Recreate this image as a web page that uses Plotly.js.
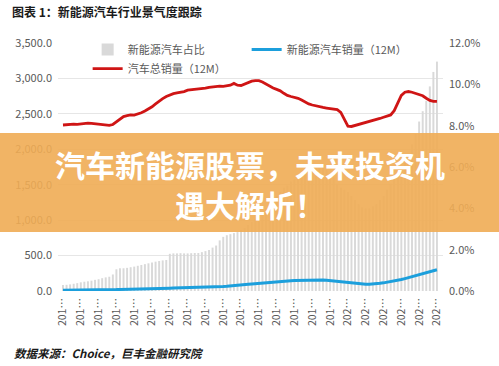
<!DOCTYPE html>
<html><head><meta charset="utf-8">
<script src="https://cdn.plot.ly/plotly-3.0.1.min.js"></script>
<style>html,body{margin:0;padding:0;background:#fff}#chart{width:499px;height:366px}</style>
</head><body><div id="chart"></div>
<script>
var months = ("2013-06 2013-07 2013-08 2013-09 2013-10 2013-11 2013-12 " +
"2014-01 2014-02 2014-03 2014-04 2014-05 2014-06 2014-07 2014-08 2014-09 2014-10 2014-11 2014-12 " +
"2015-01 2015-02 2015-03 2015-04 2015-05 2015-06 2015-07 2015-08 2015-09 2015-10 2015-11 2015-12 " +
"2016-01 2016-02 2016-03 2016-04 2016-05 2016-06 2016-07 2016-08 2016-09 2016-10 2016-11 2016-12 " +
"2017-01 2017-02 2017-03 2017-04 2017-05 2017-06 2017-07 2017-08 2017-09 2017-10 2017-11 2017-12 " +
"2018-01 2018-02 2018-03 2018-04 2018-05 2018-06 2018-07 2018-08 2018-09 2018-10 2018-11 2018-12 " +
"2019-01 2019-02 2019-03 2019-04 2019-05 2019-06 2019-07 2019-08 2019-09 2019-10 2019-11 2019-12 " +
"2020-01 2020-02 2020-03 2020-04 2020-05 2020-06 2020-07 2020-08 2020-09 2020-10 2020-11 2020-12 " +
"2021-01 2021-02 2021-03 2021-04 2021-05 2021-06 2021-07 2021-08 2021-09 2021-10 2021-11 2021-12 " +
"2022-01 2022-02 2022-03").split(" ");

// 新能源汽车占比 (%)
var nevShare = [
0.29,0.30,0.32,0.35,0.38,0.42,0.45,0.47,0.50,0.54,
0.57,0.62,0.66,0.69,0.80,1.05,1.10,1.10,1.12,1.15,
1.18,1.22,1.26,1.30,1.34,1.38,1.42,1.45,1.48,1.50,
1.80,1.82,1.82,1.83,1.82,1.82,1.83,1.84,1.84,1.88,
1.93,1.98,2.10,2.20,2.45,2.62,2.70,2.75,2.80,2.85,
2.95,3.05,3.20,3.35,3.50,3.65,3.80,4.00,4.20,4.40,
4.60,4.80,5.00,5.10,5.30,5.40,5.50,5.60,5.70,5.80,
5.90,5.95,6.00,5.95,5.85,5.70,5.50,5.20,5.00,4.90,
4.80,4.60,4.40,4.20,4.05,4.00,4.00,4.10,4.20,4.40,
4.60,4.90,5.20,5.50,5.60,5.80,6.20,6.60,7.10,7.60,
8.20,8.70,9.20,9.90,10.60,11.10];

// 新能源汽车销量 (12M)
var nevSales = [
10,10,11,11,12,12,13,13,14,14,15,
15,16,17,18,20,22,24,26,28,30,
31,32,33,34,35,36,37,38,39,40,
41,42,43,44,45,46,48,50,52,54,
56,58,60,62,64,67,70,74,78,82,
88,95,100,105,110,115,120,125,130,134,
138,141,144,146,148,150,152,153,154,155,
156,156,155,152,147,140,132,124,117,112,
107,103,100,97,96,95,97,101,
108,115,123,132,142,152,162,175,188,200,213,226,240,255,270,286,300];

// 汽车总销量 (12M)
var totalSales = [
2343,2350,2352,2355,2352,2358,2365,2368,2366,2362,
2352,2345,2340,2338,2350,2390,2430,2462,2475,2484,
2482,2495,2515,2540,2565,2600,2640,2680,2715,2745,
2770,2785,2795,2800,2815,2835,2840,2838,2845,2855,
2862,2875,2882,2886,2890,2888,2895,2905,2930,2905,
2900,2920,2950,2962,2970,2968,2950,2920,2890,2865,
2845,2825,2790,2760,2745,2735,2720,2695,2665,2640,
2625,2610,2600,2590,2582,2575,2568,2560,2520,2420,
2325,2322,2335,2350,2365,2378,2392,2406,2420,2435,
2452,2470,2485,2545,2660,2760,2805,2815,2805,2790,
2775,2755,2720,2690,2675,2675];

var tickLabels = ["201…","201…","201…","201…","201…","201…","201…","201…",
"201…","201…","201…","201…","201…","201…","201…","201…",
"202…","202…","202…","202…","202…","202…"];
var tickVals = months.filter(function(m, i){ return i % 5 === 0; });

var FONT = '"Noto Sans CJK SC", "Microsoft YaHei", sans-serif';
var GRAY = '#595959';

var data = [
  {type:'bar', name:'新能源汽车占比', x:months, y:nevShare, yaxis:'y', xaxis:'x',
   marker:{color:'#d9d9d9'}, hoverinfo:'skip'},
  {type:'scatter', mode:'lines', name:'新能源汽车销量（12M）', x:months, y:nevSales, yaxis:'y2',
   line:{color:'#1c9fdc', width:3}},
  {type:'scatter', mode:'lines', name:'汽车总销量（12M）', x:months, y:totalSales, yaxis:'y2',
   line:{color:'#cf1515', width:2.8}}
];

var layout = {
  width:499, height:366,
  margin:{l:58, r:56, t:43, b:75, pad:0},
  paper_bgcolor:'#ffffff', plot_bgcolor:'rgba(0,0,0,0)',
  font:{family:FONT, color:GRAY, size:11},
  showlegend:true,
  bargap:0.45,
  title:{text:'<b>图表 1：新能源汽车行业景气度跟踪</b>', x:12/499, xanchor:'left', xref:'container',
    y:1-13/366, yanchor:'middle', yref:'container', font:{family:FONT, size:12, color:'#1a1a1a'}},
  legend:{orientation:'h', x:0.077, xanchor:'left', y:1.032, yanchor:'top',
    bgcolor:'rgba(0,0,0,0)', font:{family:FONT, size:11, color:GRAY},
    entrywidth:114, itemwidth:30, tracegroupgap:0},
  xaxis:{type:'category', range:[-1.4, 106.7], tickvals:tickVals, ticktext:tickLabels,
    tickangle:-90, ticks:'', showgrid:false, zeroline:false, showline:false,
    tickfont:{family:FONT, size:10.5, color:GRAY}, ticklabelstandoff:4},
  yaxis:{side:'right', range:[0,12], dtick:2, tick0:0, tickformat:'.1f', ticksuffix:'%',
    showgrid:false, zeroline:false, showline:false, ticks:'',
    tickfont:{family:FONT, size:11, color:GRAY}, ticklabelstandoff:5},
  yaxis2:{overlaying:'y', side:'left', range:[0,3500], dtick:500, tick0:0, tickformat:',.1f',
    showgrid:true, gridcolor:'#e6e6e6', gridwidth:1, zeroline:false, showline:false, ticks:'',
    tickfont:{family:FONT, size:11, color:GRAY}, ticklabelstandoff:5},
  shapes:[
    {type:'rect', xref:'paper', yref:'paper', x0:-58/385, x1:(499-58)/385,
     y0:(291-232)/248, y1:(291-133)/248, fillcolor:'rgba(239,172,84,0.9)', line:{width:0}, layer:'above'}
  ],
  annotations:[
    {xref:'paper', yref:'paper', x:(249.5-58)/385, y:(291-164)/248, xanchor:'center', yanchor:'middle',
     text:'<b>汽车新能源股票，未来投资机</b>', showarrow:false,
     font:{family:FONT, size:30, color:'#ffffff'}},
    {xref:'paper', yref:'paper', x:(249.5-58)/385, y:(291-204)/248, xanchor:'center', yanchor:'middle',
     text:'<b>遇大解析！</b>', showarrow:false,
     font:{family:FONT, size:30, color:'#ffffff'}},
    {xref:'paper', yref:'paper', x:(12-58)/385, y:(291-353)/248, xanchor:'left', yanchor:'middle',
     text:'<b><i>数据来源：Choice，巨丰金融研究院</i></b>', showarrow:false,
     font:{family:FONT, size:11.5, color:'#1a1a1a'}}
  ]
};

Plotly.newPlot('chart', data, layout, {displayModeBar:false, staticPlot:true});
</script>
</body></html>
